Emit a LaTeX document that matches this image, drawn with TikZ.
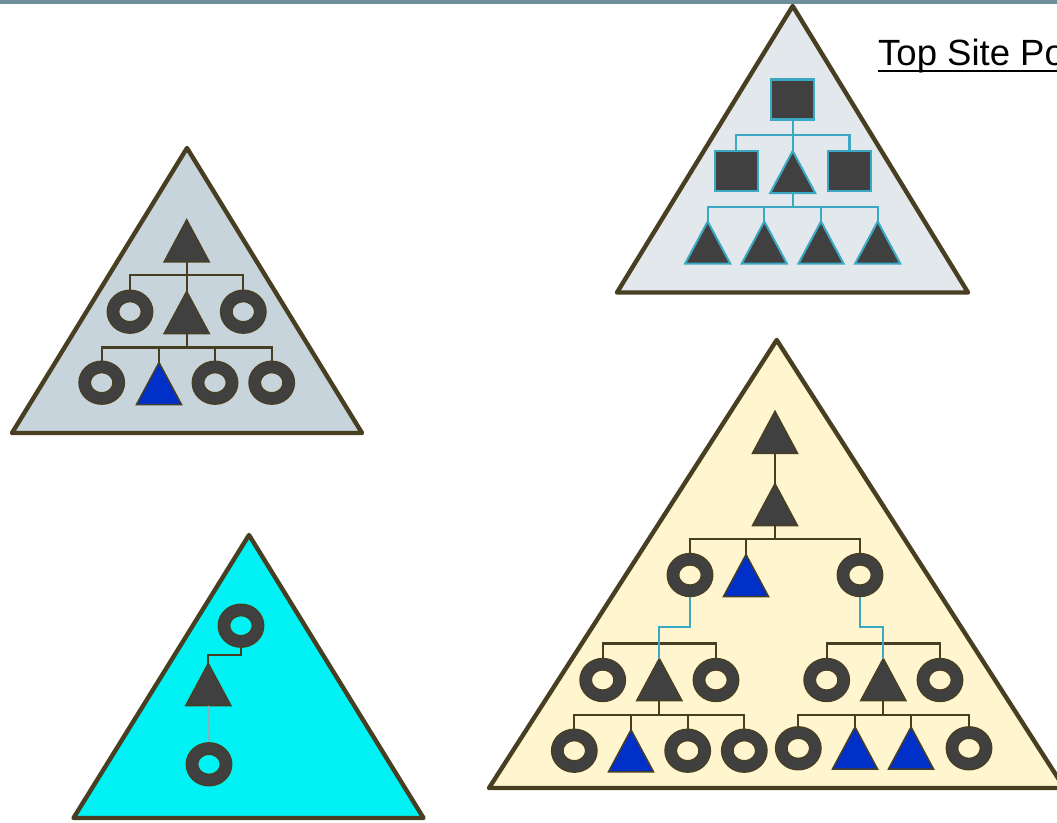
\documentclass[tikz,border=0pt]{standalone}
\usepackage{xcolor}
\usepackage{fontspec}
\usepackage{tikz}
\usetikzlibrary{shapes.geometric}
\newfontfamily\titlefont{Liberation Sans}
\definecolor{SiteBrown}{HTML}{483E22}
\definecolor{SiteSlate}{HTML}{6E8E9A}
\definecolor{SiteGray}{HTML}{C8D4DB}
\definecolor{SiteMist}{HTML}{E2E8EB}
\definecolor{SiteCyan}{HTML}{00F2F5}
\definecolor{SiteCream}{HTML}{FFF5CE}
\definecolor{SiteDark}{HTML}{404040}
\definecolor{SiteBlue}{HTML}{0030C8}
\definecolor{SiteTeal}{HTML}{3BA9C3}
\definecolor{SitePale}{HTML}{88AEBB}
\tikzset{
  panel/.style={draw=SiteBrown, line width=4.4pt, line join=round},
  ring/.style={ellipse, minimum width=34pt, minimum height=31.5pt, inner sep=0pt,
    outer sep=6.4pt, draw=SiteBrown, double=SiteDark, double distance=10pt, line width=1.4pt},
  sqbox/.style={rectangle, minimum width=43pt, minimum height=40pt, inner sep=0pt,
    fill=SiteDark, draw=SiteTeal, line width=2.2pt},
  tribox/.style={rectangle, minimum width=45pt, minimum height=42pt, inner sep=0pt, outer sep=0pt},
  darktri/.style={fill=SiteDark, draw=SiteBrown, line width=1.5pt, line join=miter},
  bluetri/.style={fill=SiteBlue, draw=SiteBrown, line width=1.5pt, line join=miter},
  tealtri/.style={fill=SiteDark, draw=SiteTeal, line width=2pt, line join=miter},
  wire/.style={draw=SiteBrown, line width=2.2pt, line join=miter},
  tealwire/.style={draw=SiteTeal, line width=2.2pt, line join=miter},
  palewire/.style={draw=SitePale, line width=1.4pt},
  titletext/.style={font=\titlefont\fontsize{36.5}{44}\selectfont, inner sep=0pt, text=black}
}
\newcommand{\trinode}[3][darktri]{%
  \node[tribox] (#2) at (#3) {};
  \draw[#1] (#2.south west) -- (#2.north) -- (#2.south east) -- cycle;}

\begin{document}
\begin{tikzpicture}[x=1pt, y=-1pt]
  \useasboundingbox (0,0) rectangle (1057,822);
  \clip (0,0) rectangle (1057,822);
  \fill[SiteSlate] (0,0) rectangle (1057,4);

  \draw[panel, fill=SiteGray] (187,148) -- (12,433) -- (362,433) -- cycle;
  \draw[panel, fill=SiteMist] (792.7,6) -- (617,292.5) -- (968,292.5) -- cycle;
  \draw[panel, fill=SiteCyan] (249,535) -- (73.5,818) -- (423.5,818) -- cycle;
  \draw[panel, fill=SiteCream] (776.7,340) -- (489,788) -- (1064.4,788) -- cycle;

  \node[titletext, anchor=base west] (title) at (878,65) {Top Site Po};
  \draw[line width=2pt] ([yshift=-5.7pt]title.base west) -- ([yshift=-5.7pt]title.base east);

  \trinode{leadA}{186.7,240.8}
  \node[ring] (ringA1) at (130,311.7) {};
  \trinode{subA}{186.7,312.5}
  \node[ring] (ringA2) at (243.3,311.7) {};
  \node[ring] (ringA3) at (101.7,382.7) {};
  \trinode[bluetri]{blueA}{159,383.5}
  \node[ring] (ringA4) at (215,382.7) {};
  \node[ring] (ringA5) at (271.7,382.7) {};
  \foreach \n in {ringA1,subA,ringA2}
    \draw[wire] (leadA.south) -- ++(0,13) -| (\n.north);
  \foreach \n in {ringA3,blueA,ringA4,ringA5}
    \draw[wire] (subA.south) -- ++(0,14) -| (\n.north);

  \node[sqbox] (headB) at (792.8,99.5) {};
  \node[sqbox] (sqB1) at (736.2,170.7) {};
  \trinode[tealtri]{subB}{792.7,172}
  \node[sqbox] (sqB2) at (849.5,170.7) {};
  \foreach \x [count=\i] in {707.7,764.3,821,877.7}
    \trinode[tealtri]{leafB\i}{\x,242.5}
  \foreach \n in {sqB1,subB,sqB2}
    \draw[tealwire] (headB.south) -- ++(0,14) -| (\n.north);
  \foreach \i in {1,...,4}
    \draw[tealwire] (subB.south) -- ++(0,14) -| (leafB\i.north);

  \node[ring] (topC) at (241,625.7) {};
  \trinode{triC}{208.3,684.5}
  \node[ring] (lowC) at (209,764.3) {};
  \draw[wire] (topC.south) -- ++(0,7) -| (triC.north);
  \draw[palewire] (triC.south) -- (lowC.north);

  \trinode{headD}{775,432.3}
  \trinode{subD}{775,504.7}
  \node[ring] (ringD1) at (690,575) {};
  \trinode[bluetri]{blueD}{746,575.5}
  \node[ring] (ringD2) at (860,575) {};
  \draw[wire] (headD.south) -- (subD.north);
  \foreach \n in {ringD1,blueD,ringD2}
    \draw[wire] (subD.south) -- ++(0,13.3) -| (\n.north);

  \node[ring] (ringL1) at (602.7,680) {};
  \trinode{triL}{659.3,679.5}
  \node[ring] (ringL2) at (716,680) {};
  \node[ring] (ringL3) at (574.3,750.7) {};
  \trinode[bluetri]{blueL}{631,750.8}
  \node[ring] (ringL4) at (687.7,750.7) {};
  \node[ring] (ringL5) at (744.3,750.7) {};
  \foreach \n in {ringL1,ringL2}
    \draw[wire] (triL.north) -- ++(0,-15) -| (\n.north);
  \foreach \n in {ringL3,blueL,ringL4,ringL5}
    \draw[wire] (triL.south) -- ++(0,14.3) -| (\n.north);

  \node[ring] (ringR1) at (826.7,680) {};
  \trinode{triR}{883.3,679.5}
  \node[ring] (ringR2) at (940,680) {};
  \node[ring] (ringR3) at (798.3,748.3) {};
  \trinode[bluetri]{blueR1}{855,748}
  \trinode[bluetri]{blueR2}{911,748}
  \node[ring] (ringR4) at (969,748.3) {};
  \foreach \n in {ringR1,ringR2}
    \draw[wire] (triR.north) -- ++(0,-15) -| (\n.north);
  \foreach \n in {ringR3,blueR1,blueR2,ringR4}
    \draw[wire] (triR.south) -- ++(0,14.3) -| (\n.north);

  \draw[tealwire] (ringD1.south) -- ++(0,30) -| (triL.north);
  \draw[tealwire] (ringD2.south) -- ++(0,30) -| (triR.north);
\end{tikzpicture}
\end{document}
